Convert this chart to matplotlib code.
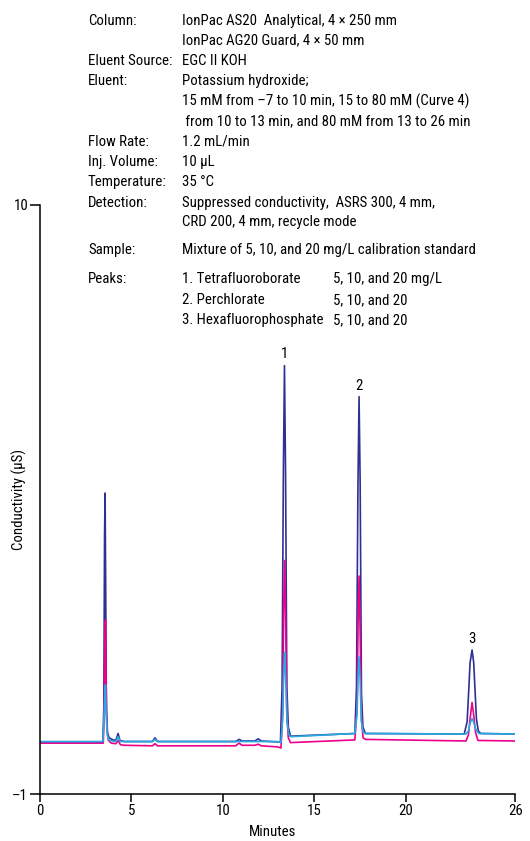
import matplotlib
matplotlib.use('Agg')
from matplotlib import pyplot as plt

plt.rcParams['font.family'] = ['Roboto Condensed', 'DejaVu Sans']
plt.rcParams['font.size'] = 10.75

# chromatogram traces: time (min) and conductivity (uS)
# 20 mg/L standard (dark blue)
t_20 = [0, 3.44, 3.49, 3.53, 3.56, 3.59, 3.63, 3.69, 3.78, 4.05, 4.17, 4.27, 4.37, 4.6,
        6.15, 6.29, 6.43, 10.7, 10.89, 11.05, 11.75, 11.93, 12.1, 13.15,
        13.24, 13.31, 13.37, 13.43, 13.5, 13.58, 13.7, 17.22,
        17.31, 17.39, 17.45, 17.51, 17.58, 17.66, 17.8, 23.2, 23.36, 23.45,
        23.52, 23.63, 23.72, 23.79, 23.87, 23.97, 24.1, 26]
y_20 = [-0.03, -0.03, 0.6, 3.8, 4.62, 3.0, 0.6, 0.15, 0.05, 0.0, 0.02, 0.13, 0.0, -0.02,
        -0.02, 0.05, -0.02, -0.02, 0.02, -0.01, -0.01, 0.03, -0.01, -0.03,
        1.0, 5.0, 7.0, 5.0, 1.0, 0.25, 0.08, 0.13,
        1.0, 4.8, 6.42, 4.8, 0.9, 0.25, 0.13, 0.12, 0.35, 0.95,
        1.45, 1.69, 1.45, 0.95, 0.4, 0.18, 0.13, 0.12]

# 10 mg/L standard (magenta)
t_10 = [0, 3.46, 3.51, 3.55, 3.58, 3.61, 3.66, 3.74, 3.9, 4.15, 4.27, 4.4, 4.6,
        6.15, 6.29, 6.43, 10.7, 10.89, 11.05, 11.75, 11.93, 12.1, 13.0, 13.18,
        13.27, 13.33, 13.38, 13.43, 13.5, 13.58, 13.7, 17.22,
        17.34, 17.4, 17.45, 17.5, 17.58, 17.67, 17.8, 23.3, 23.43, 23.52,
        23.63, 23.73, 23.82, 23.95, 26]
y_10 = [-0.05, -0.05, 0.5, 1.9, 2.25, 1.2, 0.2, 0.0, -0.05, -0.06, 0.0, -0.08, -0.09,
        -0.1, -0.06, -0.1, -0.1, -0.05, -0.09, -0.09, -0.07, -0.1, -0.12, -0.14,
        0.5, 2.5, 3.36, 2.4, 0.5, 0.05, -0.04, 0.01,
        0.6, 2.3, 3.07, 2.2, 0.4, 0.05, 0.02, -0.01, 0.1, 0.4,
        0.71, 0.45, 0.15, 0.0, -0.01]

# 5 mg/L standard (cyan)
t_5 = [0, 3.44, 3.5, 3.55, 3.58, 3.62, 3.68, 3.79, 4.15, 4.27, 4.4,
       6.15, 6.29, 6.43, 13.0, 13.18, 13.27, 13.33, 13.38, 13.43, 13.51,
       13.6, 13.7, 17.22, 17.34, 17.4, 17.45, 17.5, 17.58, 17.67,
       17.8, 23.3, 23.43, 23.52, 23.63, 23.73, 23.84, 24.0, 26]
y_5 = [-0.02, -0.02, 0.4, 0.9, 1.04, 0.5, 0.1, 0.0, -0.02, 0.07, -0.02,
       -0.02, 0.02, -0.02, -0.02, -0.04, 0.4, 1.3, 1.65, 1.2, 0.35,
       0.12, 0.07, 0.13, 0.5, 1.25, 1.56, 1.2, 0.35, 0.16,
       0.13, 0.12, 0.18, 0.32, 0.41, 0.33, 0.2, 0.13, 0.12]

peak_times = [13.37, 17.45, 23.63]
peak_heights = [7.0, 6.42, 1.69]
peak_names = ['1', '2', '3']

info_labels = ['Column:', '', 'Eluent Source:', 'Eluent:', '', '', 'Flow Rate:',
               'Inj. Volume:', 'Temperature:', 'Detection:', '', 'Sample:',
               'Peaks:', '', '']
info_values = ['IonPac AS20  Analytical, 4 \u00d7 250 mm',
               'IonPac AG20 Guard, 4 \u00d7 50 mm',
               'EGC II KOH',
               'Potassium hydroxide;',
               '15 mM from \u20137 to 10 min, 15 to 80 mM (Curve 4)',
               ' from 10 to 13 min, and 80 mM from 13 to 26 min',
               '1.2 mL/min',
               '10 \u00b5L',
               '35 \u00b0C',
               'Suppressed conductivity,  ASRS 300, 4 mm,',
               'CRD 200, 4 mm, recycle mode',
               'Mixture of 5, 10, and 20 mg/L calibration standard',
               '1. Tetrafluoroborate',
               '2. Perchlorate',
               '3. Hexafluorophosphate']
info_conc = ['', '', '', '', '', '', '', '', '', '', '', '',
             '5, 10, and 20 mg/L', '5, 10, and 20', '5, 10, and 20']
info_rows_y = [20.7, 40.7, 61, 81, 101.7, 121.7, 141.7, 161.7, 181.7,
               203.3, 222, 250, 279, 300, 320]

W, H = 530, 841
fig = plt.figure(figsize=(W / 100, H / 100), dpi=100)
ax = fig.add_axes([40 / W, 1 - 794 / H, (515.4 - 40) / W, (794 - 205) / H])

ax.plot(t_20, y_20, color='#2e3192', lw=1.2)
ax.plot(t_10, y_10, color='#ec008c', lw=1.2)
ax.plot(t_5, y_5, color='#27aae1', lw=1.2)

for t, h, n in zip(peak_times, peak_heights, peak_names):
    ax.annotate(n, xy=(t, h), xytext=(0, 3), textcoords='offset points',
                ha='center', va='bottom')

ax.set_xlim(0, 26)
ax.set_ylim(-1, 10)
ax.set_xticks([0, 5, 10, 15, 20, 26])
ax.set_yticks([-1, 10])
ax.set_yticklabels(['\u20131', '10'])
ax.spines['top'].set_visible(False)
ax.spines['right'].set_visible(False)
ax.spines['left'].set_linewidth(1.1)
ax.spines['bottom'].set_linewidth(1.1)
ax.tick_params(axis='x', length=5.5, width=1.1, pad=2)
ax.tick_params(axis='y', length=7, width=1.1, pad=1.5)
ax.set_xlabel('Minutes')
ax.set_ylabel('Conductivity (\u00b5S)')
ax.xaxis.set_label_coords(0.49, -0.053)
ax.yaxis.set_label_coords(-0.028, 0.5)

for lab, val, conc, yy in zip(info_labels, info_values, info_conc, info_rows_y):
    fig.text(88 / W, 1 - yy / H, lab, va='center', ha='left')
    fig.text(182 / W, 1 - yy / H, val, va='center', ha='left')
    if conc:
        fig.text(333 / W, 1 - yy / H, conc, va='center', ha='left')

fig.savefig('out.png', dpi=100)
